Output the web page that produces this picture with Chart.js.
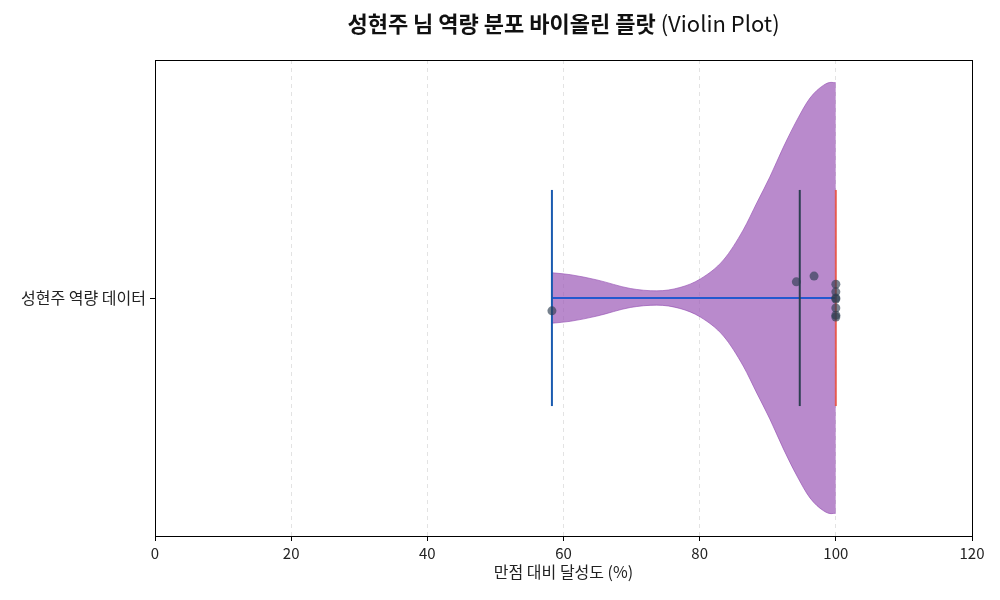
<!DOCTYPE html>
<html>
<head>
<meta charset="utf-8">
<script src="https://cdn.jsdelivr.net/npm/chart.js@4.4.0/dist/chart.umd.min.js"></script>
<style>
  body { margin: 0; background: #fff; }
  canvas { display: block; }
</style>
</head>
<body>
<canvas id="violin" width="1000" height="600"></canvas>
<script>
const FONT = "'Noto Sans CJK KR', 'Noto Sans', sans-serif";

// data
const categoryLabel = "성현주 역량 데이터";
const titleBold = "성현주 님 역량 분포 바이올린 플랏";
const titleRest = " (Violin Plot)";
const xTitle = "만점 대비 달성도 (%)";
const xTicks = [0, 20, 40, 60, 80, 100, 120];

// violin outline: score value -> half width (in category units)
const densityX = [58.3, 61, 64.9, 69.8, 73.7, 77.1, 80.1, 83.5, 86.4, 88.4, 90.3, 92.3, 94.3, 96.2, 98.2, 99.3, 100];
const densityW = [0.053, 0.049, 0.038, 0.020, 0.015, 0.022, 0.040, 0.080, 0.143, 0.200, 0.254, 0.317, 0.374, 0.420, 0.447, 0.453, 0.452];

// individual scores and their vertical jitter
const scores = [58.3, 94.2, 96.8, 100, 100, 100, 100, 100, 100, 100];
const jitter = [-0.027, 0.034, 0.046, 0.029, 0.013, 0.0, -0.002, -0.021, -0.036, -0.040];

const minScore = 58.3;
const meanScore = 94.7;
const maxScore = 100;
const markerHalf = 0.227;

const upper = densityX.map((x, i) => ({ x: x, y: densityW[i] }));
const lower = densityX.map((x, i) => ({ x: x, y: -densityW[i] }));
const points = scores.map((s, i) => ({ x: s, y: jitter[i] }));

const vline = (v) => [{ x: v, y: -markerHalf }, { x: v, y: markerHalf }];

const frameAndTitle = {
  id: "frameAndTitle",
  afterDraw(chart) {
    const { ctx, chartArea } = chart;
    ctx.save();
    ctx.strokeStyle = "#000";
    ctx.lineWidth = 1;
    ctx.strokeRect(chartArea.left + 0.5, chartArea.top + 0.5,
      chartArea.right - chartArea.left, chartArea.bottom - chartArea.top);

    ctx.fillStyle = "#111";
    ctx.textBaseline = "middle";
    ctx.font = "bold 22px " + FONT;
    const w1 = ctx.measureText(titleBold).width;
    ctx.font = "22px " + FONT;
    const w2 = ctx.measureText(titleRest).width;
    const cx = (chartArea.left + chartArea.right) / 2;
    let x = cx - (w1 + w2) / 2;
    ctx.textAlign = "left";
    ctx.font = "bold 22px " + FONT;
    ctx.fillText(titleBold, x, 24);
    ctx.font = "22px " + FONT;
    ctx.fillText(titleRest, x + w1, 24);
    ctx.restore();
  }
};

new Chart(document.getElementById("violin"), {
  type: "scatter",
  data: {
    datasets: [
      {
        label: "violin-top",
        data: upper,
        showLine: true,
        borderColor: "rgba(142, 68, 173, 0.6)",
        borderWidth: 1,
        pointRadius: 0,
        cubicInterpolationMode: "monotone",
        fill: false,
        order: 10
      },
      {
        label: "violin-bottom",
        data: lower,
        showLine: true,
        borderColor: "rgba(142, 68, 173, 0.6)",
        borderWidth: 1,
        pointRadius: 0,
        cubicInterpolationMode: "monotone",
        fill: "-1",
        backgroundColor: "rgba(155, 89, 182, 0.7)",
        order: 9
      },
      {
        label: "range",
        data: [{ x: minScore, y: 0 }, { x: maxScore, y: 0 }],
        showLine: true,
        borderColor: "#2358cf",
        borderWidth: 2,
        pointRadius: 0,
        order: 5
      },
      {
        label: "min",
        data: vline(minScore),
        showLine: true,
        borderColor: "#1a5bb0",
        borderWidth: 2,
        pointRadius: 0,
        order: 4
      },
      {
        label: "mean",
        data: vline(meanScore),
        showLine: true,
        borderColor: "#2c3e50",
        borderWidth: 2,
        pointRadius: 0,
        order: 4
      },
      {
        label: "max",
        data: vline(maxScore),
        showLine: true,
        borderColor: "rgba(231, 76, 60, 0.85)",
        borderWidth: 2,
        pointRadius: 0,
        order: 4
      },
      {
        label: "scores",
        data: points,
        pointRadius: 4.5,
        pointBackgroundColor: "rgba(44, 62, 80, 0.65)",
        pointBorderColor: "rgba(44, 62, 80, 0.65)",
        pointBorderWidth: 0,
        order: 1
      }
    ]
  },
  options: {
    responsive: false,
    animation: false,
    layout: { padding: { top: 60, right: 28, left: 0, bottom: 18 } },
    plugins: {
      legend: { display: false },
      tooltip: { enabled: false }
    },
    scales: {
      x: {
        type: "linear",
        min: 0,
        max: 120,
        afterBuildTicks: (s) => { s.ticks = xTicks.map((v) => ({ value: v })); },
        ticks: { color: "#222", font: { family: FONT, size: 15 }, padding: 3 },
        grid: {
          color: "#e3e3e3",
          tickColor: "#000",
          tickLength: 5,
          drawOnChartArea: true
        },
        border: { display: true, color: "#000", dash: [4, 4] },
        title: {
          display: true,
          text: xTitle,
          color: "#222",
          font: { family: FONT, size: 16 },
          padding: { top: 0, bottom: 0 }
        },
        afterFit: (s) => { s.height = 46; }
      },
      y: {
        type: "linear",
        min: -0.5,
        max: 0.5,
        afterBuildTicks: (s) => { s.ticks = [{ value: 0 }]; },
        ticks: {
          color: "#222",
          font: { family: FONT, size: 16 },
          padding: 4,
          callback: () => categoryLabel
        },
        grid: { drawOnChartArea: false, tickColor: "#000", tickLength: 5 },
        border: { color: "#000" },
        afterFit: (s) => { s.width = 155; }
      }
    }
  },
  plugins: [frameAndTitle]
});
</script>
</body>
</html>
